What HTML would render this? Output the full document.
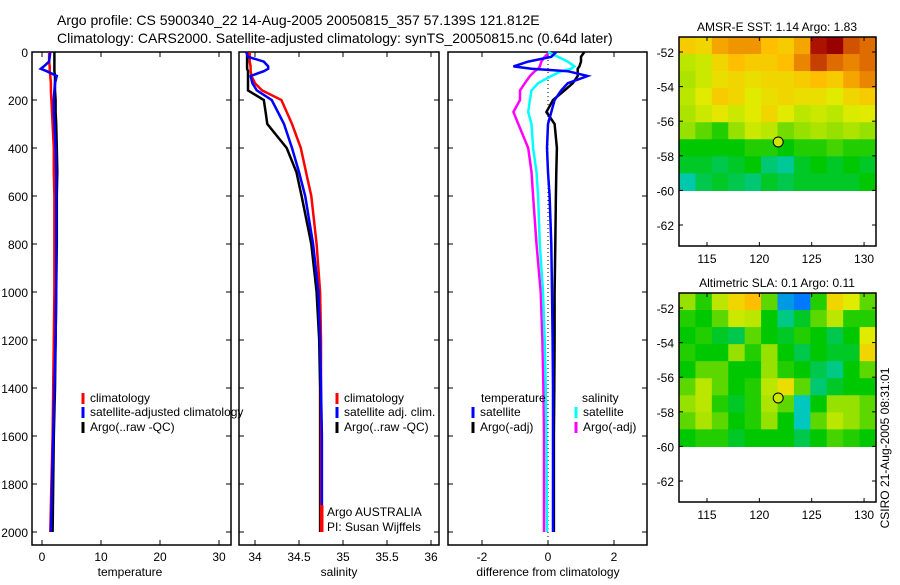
<!DOCTYPE html>
<html><head><meta charset="utf-8"><style>
body{margin:0;background:#fff}
svg text{font-family:"Liberation Sans",sans-serif;font-size:12px;fill:#000}
</style></head><body>
<svg id="s" width="900" height="580" xmlns="http://www.w3.org/2000/svg">
<text x="57" y="25" style="font-size:14px">Argo profile: CS 5900340_22 14-Aug-2005 20050815_357 57.139S 121.812E</text>
<text x="57" y="43" style="font-size:14px">Climatology: CARS2000. Satellite-adjusted climatology: synTS_20050815.nc (0.64d later)</text>
<g id="g"></g>
</svg>
<script>
const depths=[0,20,40,60,70,80,100,130,160,200,250,300,400,500,600,800,1000,1200,1400,1600,1800,2000];
const tClim=[1.2,1.2,1.2,1.3,1.3,1.3,1.4,1.5,1.5,1.6,1.7,1.8,2.0,2.0,2.1,2.1,2.1,2.0,1.9,1.8,1.6,1.4];
const tSat=[1.4,1.3,1.2,0.3,-0.2,0.8,2.5,2.2,2.1,2.0,2.0,2.1,2.3,2.4,2.4,2.4,2.4,2.3,2.1,1.9,1.7,1.5];
const tArgo=[2.1,2.1,2.1,2.1,2.1,2.1,2.2,2.2,2.2,2.3,2.3,2.4,2.5,2.6,2.5,2.5,2.4,2.3,2.2,2.0,1.9,1.8];
const sClim=[33.94,33.94,33.94,33.95,33.95,33.95,33.96,34.0,34.08,34.3,34.36,34.42,34.52,34.58,34.64,34.7,34.74,34.75,34.75,34.75,34.75,34.75];
const sSat=[33.9,33.92,34.1,34.15,34.15,34.1,33.95,33.97,34.02,34.19,34.26,34.33,34.42,34.5,34.57,34.66,34.72,34.74,34.75,34.76,34.76,34.76];
const sArgo=[33.91,33.91,33.91,33.91,33.91,33.92,33.92,33.92,33.92,34.1,34.12,34.14,34.36,34.47,34.53,34.64,34.7,34.73,34.74,34.74,34.74,34.74];
const dTsat=[0.25,0.1,-0.6,-1.05,-0.5,0.6,1.2,0.6,0.4,0.2,0.1,0.0,-0.03,0.0,0.05,0.1,0.12,0.14,0.15,0.15,0.15,0.15];
const dTargo=[1.1,1.0,1.0,0.95,0.9,0.9,0.9,0.75,0.5,0.15,-0.05,0.2,0.27,0.25,0.24,0.22,0.2,0.2,0.19,0.18,0.18,0.18];
const dSsat=[0.0,0.3,0.6,0.8,0.7,0.4,0.1,-0.3,-0.5,-0.55,-0.6,-0.5,-0.45,-0.35,-0.3,-0.25,-0.15,-0.1,-0.07,-0.05,-0.04,-0.03];
const dSargo=[0.05,-0.1,-0.2,-0.25,-0.3,-0.4,-0.55,-0.7,-0.85,-0.85,-1.05,-0.9,-0.6,-0.5,-0.45,-0.35,-0.22,-0.17,-0.14,-0.12,-0.12,-0.12];
const depthTicks=[0,200,400,600,800,1000,1200,1400,1600,1800,2000];
const tTicks=[0,10,20,30];
const sTicks=[34,34.5,35,35.5,36];
const dTicks=[-2,0,2];
const lonTicks=[115,120,125,130];
const latTicks=[-52,-54,-56,-58,-60,-62];
const sstGrid=[
[0.72,0.7,0.78,0.8,0.8,0.75,0.72,0.78,0.95,0.98,0.88,0.85],
[0.6,0.62,0.7,0.75,0.72,0.72,0.75,0.82,0.9,0.85,0.82,0.85],
[0.58,0.62,0.68,0.7,0.68,0.7,0.7,0.72,0.75,0.72,0.78,0.82],
[0.6,0.65,0.72,0.7,0.65,0.68,0.7,0.68,0.68,0.65,0.7,0.72],
[0.58,0.62,0.66,0.62,0.65,0.7,0.65,0.6,0.62,0.6,0.64,0.65],
[0.55,0.5,0.45,0.55,0.62,0.6,0.52,0.55,0.58,0.55,0.58,0.55],
[0.42,0.42,0.42,0.42,0.45,0.45,0.42,0.45,0.45,0.48,0.45,0.45],
[0.4,0.4,0.38,0.4,0.42,0.36,0.34,0.4,0.42,0.4,0.42,0.4],
[0.33,0.38,0.4,0.38,0.36,0.4,0.38,0.4,0.4,0.4,0.4,0.42]];
const slaGrid=[
[0.55,0.45,0.6,0.7,0.75,0.5,0.25,0.2,0.45,0.7,0.65,0.5],
[0.45,0.42,0.5,0.62,0.6,0.42,0.35,0.4,0.5,0.6,0.45,0.45],
[0.42,0.45,0.4,0.38,0.5,0.42,0.4,0.45,0.42,0.38,0.42,0.65],
[0.45,0.42,0.42,0.55,0.45,0.55,0.42,0.38,0.42,0.4,0.4,0.7],
[0.42,0.5,0.5,0.42,0.42,0.55,0.45,0.42,0.38,0.35,0.42,0.5],
[0.5,0.6,0.5,0.42,0.45,0.6,0.68,0.5,0.36,0.4,0.42,0.42],
[0.55,0.6,0.45,0.4,0.45,0.58,0.5,0.32,0.42,0.55,0.55,0.5],
[0.5,0.58,0.5,0.42,0.45,0.55,0.42,0.32,0.5,0.6,0.55,0.5],
[0.42,0.45,0.45,0.4,0.42,0.42,0.42,0.38,0.42,0.48,0.45,0.42]];
const argoPos=[121.8,-57.2];

const NS='http://www.w3.org/2000/svg';
const G=document.getElementById('g');
function mk(t,a,p){const e=document.createElementNS(NS,t);for(const k in a)e.setAttribute(k,a[k]);(p||G).appendChild(e);return e;}
function yD(d){return 52+d*0.24;}
const PT=52,PB=545;
function panel(x0,x1,xs,ticks,name,label,lx){
  const r=mk('rect',{x:x0,y:PT,width:x1-x0,height:PB-PT,fill:'none',stroke:'#000','stroke-width':1.5});
  
  
  ticks.forEach(v=>{const X=xs(v);mk('line',{x1:X,x2:X,y1:PT,y2:PT+5,stroke:'#000'});mk('line',{x1:X,x2:X,y1:PB,y2:PB-5,stroke:'#000'});
    const t=mk('text',{x:X,y:PB+16,'text-anchor':'middle'});t.textContent=String(v);
    
    });
  depthTicks.forEach(d=>{mk('line',{x1:x0,x2:x0+5,y1:yD(d),y2:yD(d),stroke:'#000'});mk('line',{x1:x1,x2:x1-5,y1:yD(d),y2:yD(d),stroke:'#000'});});
  const t=mk('text',{x:lx,y:576,'text-anchor':'middle'});t.textContent=label;
  
  
}
function line(vals,xs,col,name,w){
  const pts=vals.map((v,i)=>xs(v).toFixed(1)+','+yD(depths[i]).toFixed(1)).join(' ');
  const p=mk('polyline',{points:pts,fill:'none',stroke:col,'stroke-width':w||2.5});
  
  
}
function leg(x,y,col,txt,name){
  if(col)mk('line',{x1:x,x2:x,y1:y-9,y2:y+2,stroke:col,'stroke-width':3});
  const t=mk('text',{x:x+7,y:y});t.textContent=txt;
  
  
}
const xT=v=>42+5.9*v, xS=v=>255+88*(v-34), xDf=v=>548+33*v;
panel(32,231,xT,tTicks,'temperature-panel','temperature',130);
panel(239,439,xS,sTicks,'salinity-panel','salinity',339);
panel(448,647,xDf,dTicks,'difference-panel','difference from climatology',548);
depthTicks.forEach(d=>{const t=mk('text',{x:28,y:yD(d)+5,'text-anchor':'end'});t.textContent=String(d);
  
  });
mk('line',{x1:548,x2:548,y1:PT,y2:PB,stroke:'#000','stroke-dasharray':'1,3'});
line(tClim,xT,'#f00','temp-climatology-line');
line(tArgo,xT,'#000','temp-argo-line');
line(tSat,xT,'#00f','temp-satellite-line');
line(sArgo,xS,'#000','sal-argo-line');
line(sClim,xS,'#f00','sal-climatology-line');
line(sSat,xS,'#00f','sal-satellite-line');
line(dSargo,xDf,'#f0f','diff-sal-argo-line');
line(dSsat,xDf,'#0ff','diff-sal-satellite-line');
line(dTargo,xDf,'#000','diff-temp-argo-line');
line(dTsat,xDf,'#00f','diff-temp-satellite-line');
leg(83,402,'#f00','climatology','legend-climatology');
leg(83,416,'#00f','satellite-adjusted climatology','legend-satellite');
leg(83,431,'#000','Argo(..raw -QC)','legend-argo');
leg(337,402,'#f00','climatology','legend2-climatology');
leg(337,416,'#00f','satellite adj. clim.','legend2-satellite');
leg(337,431,'#000','Argo(..raw -QC)','legend2-argo');
leg(474,402,null,'temperature','legend3-temperature');
leg(575,402,null,'salinity','legend3-salinity');
leg(473,416,'#00f','satellite','legend3-temp-satellite');
leg(473,431,'#000','Argo(-adj)','legend3-temp-argo');
leg(576,416,'#0ff','satellite','legend3-sal-satellite');
leg(576,431,'#f0f','Argo(-adj)','legend3-sal-argo');
mk('line',{x1:322,x2:322,y1:505,y2:532,stroke:'#f00','stroke-width':3});
leg(320,516,null,'Argo AUSTRALIA','argo-australia-label');
leg(320,531,null,'PI: Susan Wijffels','pi-label');

const stops=[[0,[0,0,255]],[0.2,[0,120,255]],[0.32,[0,200,190]],[0.42,[0,200,0]],[0.55,[150,225,0]],[0.65,[225,235,0]],[0.75,[255,190,0]],[0.86,[220,100,0]],[0.97,[160,0,0]],[1,[140,0,0]]];
function cmap(v){for(let i=1;i<stops.length;i++){if(v<=stops[i][0]){const a=stops[i-1],b=stops[i],f=(v-a[0])/(b[0]-a[0]);return 'rgb('+a[1].map((c,k)=>Math.round(c+f*(b[1][k]-c))).join(',')+')';}}return 'rgb(140,0,0)';}
function map(top,grid,title,name){
  const L=679,R=876,B=top+209;
  const xl=lo=>707+(lo-115)*10.47, yl=la=>top+15+(-52-la)*17.3;
  const g=mk('g',{});
  
  
  const rows=grid.length,cols=grid[0].length,y0=top,y1=yl(-60),cw=(R-L)/cols,ch=(y1-y0)/rows;
  grid.forEach((row,i)=>row.forEach((v,j)=>{mk('rect',{x:L+j*cw,y:y0+i*ch,width:cw+0.6,height:ch+0.6,fill:cmap(v)},g);}));
  const fr=mk('rect',{x:L,y:top,width:R-L,height:B-top,fill:'none',stroke:'#000','stroke-width':1.5},g);
  lonTicks.forEach(v=>{const X=xl(v);mk('line',{x1:X,x2:X,y1:top,y2:top+4,stroke:'#000'},g);mk('line',{x1:X,x2:X,y1:B,y2:B-4,stroke:'#000'},g);
    const t=mk('text',{x:X,y:B+17,'text-anchor':'middle'},g);t.textContent=String(v);
    
    });
  latTicks.forEach(v=>{const Y=yl(v);mk('line',{x1:L,x2:L+4,y1:Y,y2:Y,stroke:'#000'},g);mk('line',{x1:R,x2:R-4,y1:Y,y2:Y,stroke:'#000'},g);
    const t=mk('text',{x:674,y:Y+5,'text-anchor':'end'},g);t.textContent=String(v);
    
    });
  const c=mk('circle',{cx:xl(argoPos[0]),cy:yl(argoPos[1]),r:5,fill:cmap(0.62),stroke:'#000'},g);
  
  
  const t=mk('text',{x:777,y:top-6,'text-anchor':'middle'},g);t.textContent=title;
  
  
}
map(37,sstGrid,'AMSR-E SST: 1.14 Argo: 1.83','sst-map');
map(293,slaGrid,'Altimetric SLA: 0.1 Argo: 0.11','sla-map');
const cs=mk('text',{x:889,y:448,'text-anchor':'middle',transform:'rotate(-90 889 448)'});
cs.textContent='CSIRO 21-Aug-2005 08:31:01';


</script>
</body></html>
